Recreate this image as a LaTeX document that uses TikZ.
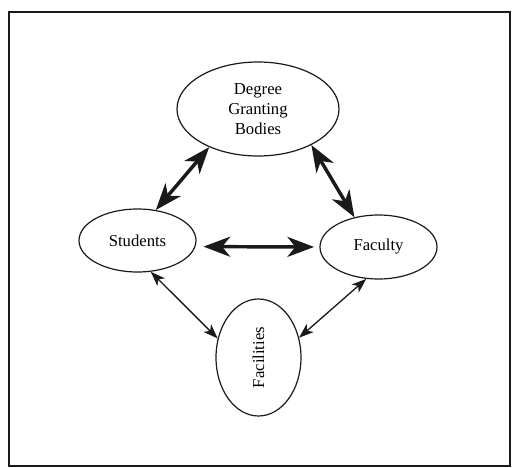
\documentclass[tikz,border=0pt]{standalone}
\usepackage{fontspec}
\setmainfont{Liberation Serif}
\usepackage{tikz}
\usetikzlibrary{arrows.meta,shapes.geometric}
\definecolor{Ink}{HTML}{1A1A1A}

\begin{document}
\begin{tikzpicture}[x=0.75pt, y=-0.75pt, font=\fontsize{12.5}{15}\selectfont,
    oval/.style={draw=Ink, ellipse, line width=0.9pt, inner sep=0pt, align=center},
    bigarr/.style={{Stealth[length=20pt,width=15pt,inset=6pt]}-{Stealth[length=20pt,width=15pt,inset=6pt]}, line width=2.6pt, Ink},
    smallarr/.style={{Stealth[length=11pt,width=8pt,inset=3pt]}-{Stealth[length=11pt,width=8pt,inset=3pt]}, line width=1pt, Ink}]
    \useasboundingbox (0,0) rectangle (512,468);
    \draw[line width=1.7pt, Ink] (9,12) rectangle (510,466);

    \node[oval, minimum width=121.5pt, minimum height=70.5pt] (dgb) at (258,109) {Degree\\Granting\\Bodies};
    \node[oval, minimum width=87.75pt, minimum height=47.25pt] (students) at (137.5,240.5) {Students};
    \node[oval, minimum width=87.75pt, minimum height=48pt] (faculty) at (378.5,247) {Faculty};
    \node[oval, minimum width=63.75pt, minimum height=87.75pt] (facilities) at (258.5,357.5) {\rotatebox{90}{Facilities}};

    \draw[bigarr] (dgb.218) -- (students.59);
    \draw[bigarr] (dgb.326) -- (faculty.129);
    \draw[bigarr, shorten <=6pt, shorten >=4pt] (students.-6) -- (faculty.west);
    \draw[smallarr] (students.-67) -- (facilities.155);
    \draw[smallarr] (faculty.249) -- (facilities.26);
\end{tikzpicture}
\end{document}
